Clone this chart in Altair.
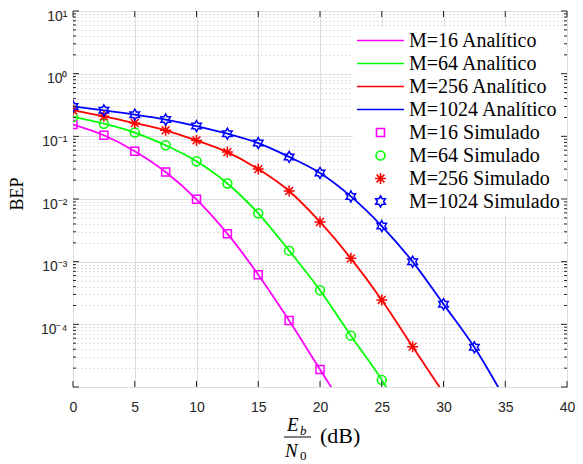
import altair as alt
import pandas as pd

# ---------------- data ----------------
labels_ana = ["M=16 Analítico", "M=64 Analítico", "M=256 Analítico", "M=1024 Analítico"]
labels_sim = ["M=16 Simulado", "M=64 Simulado", "M=256 Simulado", "M=1024 Simulado"]
series_colors = ["#ff00ff", "#00ff00", "#ff0000", "#0000ff"]

x_ana_16 = [0, 2.5, 5, 7.5, 10, 12.5, 15, 17.5, 20, 22.5]
ana_16 = [0.154, 0.104, 0.058, 0.027, 0.0099, 0.0028, 0.00062, 0.000115, 0.000019, 0.0000032]
x_ana_64 = [0, 2.5, 5, 7.5, 10, 12.5, 15, 17.5, 20, 22.5, 25, 27.5]
ana_64 = [0.204, 0.159, 0.115, 0.072, 0.040, 0.0177, 0.0059, 0.0015, 0.00035, 0.000066, 0.000013, 0.0000018]
x_ana_256 = [0, 2.5, 5, 7.5, 10, 12.5, 15, 17.5, 20, 22.5, 25, 27.5, 30]
ana_256 = [0.26, 0.209, 0.163, 0.125, 0.086, 0.056, 0.030, 0.0134, 0.0043, 0.00113, 0.000245, 0.000044, 0.000008]
x_ana_1024 = [0, 2.5, 5, 7.5, 10, 12.5, 15, 17.5, 20, 22.5, 25, 27.5, 30, 32.5, 35]
ana_1024 = [0.30, 0.26, 0.222, 0.185, 0.146, 0.110, 0.078, 0.047, 0.026, 0.011, 0.0037, 0.0010, 0.00021, 0.000043, 0.0000063]

x_sim_16 = [0, 2.5, 5, 7.5, 10, 12.5, 15, 17.5, 20]
sim_16 = [0.154, 0.104, 0.058, 0.027, 0.0099, 0.0028, 0.00062, 0.000115, 0.000019]
x_sim_64 = [0, 2.5, 5, 7.5, 10, 12.5, 15, 17.5, 20, 22.5, 25]
sim_64 = [0.204, 0.159, 0.115, 0.072, 0.040, 0.0177, 0.0059, 0.0015, 0.00035, 0.000066, 0.000013]
x_sim_256 = [0, 2.5, 5, 7.5, 10, 12.5, 15, 17.5, 20, 22.5, 25, 27.5]
sim_256 = [0.26, 0.209, 0.163, 0.125, 0.086, 0.056, 0.030, 0.0134, 0.0043, 0.00113, 0.000245, 0.000044]
x_sim_1024 = [0, 2.5, 5, 7.5, 10, 12.5, 15, 17.5, 20, 22.5, 25, 27.5, 30, 32.5]
sim_1024 = [0.30, 0.26, 0.222, 0.185, 0.146, 0.110, 0.078, 0.047, 0.026, 0.011, 0.0037, 0.0010, 0.00021, 0.000043]

x_ticks = [0, 5, 10, 15, 20, 25, 30, 35, 40]
y_decades = [1e-5, 1e-4, 1e-3, 1e-2, 1e-1, 1, 10]
minor_mults = [2, 3, 4, 5, 6, 7, 8, 9]

# ---------------- tables ----------------
ana_df = pd.concat([
    pd.DataFrame({"x": xs, "y": ys, "serie": lab, "order": range(len(xs))})
    for xs, ys, lab in [(x_ana_16, ana_16, labels_ana[0]), (x_ana_64, ana_64, labels_ana[1]),
                        (x_ana_256, ana_256, labels_ana[2]), (x_ana_1024, ana_1024, labels_ana[3])]
])
sim_df = pd.concat([
    pd.DataFrame({"x": xs, "y": ys, "serie": lab})
    for xs, ys, lab in [(x_sim_16, sim_16, labels_sim[0]), (x_sim_64, sim_64, labels_sim[1]),
                        (x_sim_256, sim_256, labels_sim[2]), (x_sim_1024, sim_1024, labels_sim[3])]
])
minor_vals = [m * d for d in y_decades[:-1] for m in minor_mults]
grid_vals = y_decades + minor_vals
xt_df = pd.DataFrame({"x": x_ticks})
ymaj_df = pd.DataFrame({"y": y_decades})
ymin_df = pd.DataFrame({"y": minor_vals})

all_labels = labels_ana + labels_sim
color_range = series_colors + series_colors
# symbol paths in units of half the symbol box (box = 47 px at size 2209)
line_sym = "M-1,0H1"
square_sym = "M-0.17,-0.17H0.17V0.17H-0.17Z"
circle_sym = "M0.19,0A0.19,0.19,0,1,1,-0.19,0A0.19,0.19,0,1,1,0.19,0Z"
aster_sym = "M-0.234,0H0.234M0,-0.234V0.234M-0.166,-0.166L0.166,0.166M-0.166,0.166L0.166,-0.166"
hexa_sym = ("M0,-0.234L0.068,-0.117L0.203,-0.117L0.135,0L0.203,0.117L0.068,0.117L0,0.234"
            "L-0.068,0.117L-0.203,0.117L-0.135,0L-0.203,-0.117L-0.068,-0.117Z")
shape_range = [line_sym] * 4 + [square_sym, circle_sym, aster_sym, hexa_sym]
SYM = 2209

W, H = 494, 376
xs = alt.Scale(domain=[0, 40], nice=False)
ys = alt.Scale(type="log", domain=[1e-5, 10], nice=False)

LOGE = "(log(datum.value)/LN10)"
MINOR = f"abs({LOGE} - round({LOGE})) > 0.01"
E = f"round({LOGE})"
label_expr = (f"{MINOR} || {E} < -4 ? '' : {E} == 1 ? '10¹' : {E} == 0 ? '10⁰' : "
              f"{E} == -1 ? '10⁻¹' : {E} == -2 ? '10⁻²' : {E} == -3 ? '10⁻³' : '10⁻⁴'")

x_axis = alt.Axis(values=x_ticks, grid=True, gridColor="#dedede", ticks=False, tickSize=0,
                  domain=False, labelFont="Liberation Sans", labelFontSize=14,
                  labelColor="#262626", labelPadding=13, labelFlush=False, title=None)
y_axis = alt.Axis(values=grid_vals, grid=True,
                  gridColor={"condition": {"test": MINOR, "value": "#c2c2c2"}, "value": "#dedede"},
                  gridDash={"condition": {"test": MINOR, "value": [1, 3]}, "value": []},
                  ticks=False, tickSize=0, domain=False, labelExpr=label_expr,
                  labelFont="Liberation Sans", labelFontSize=14, labelColor="#262626",
                  labelPadding=6, labelOffset=5, labelOverlap=False, labelBound=False,
                  labelFlush=False, title=None)

X = alt.X("x:Q", scale=xs, axis=x_axis)
Y = alt.Y("y:Q", scale=ys, axis=y_axis)
color_enc = alt.Color("serie:N", scale=alt.Scale(domain=all_labels, range=color_range), title=None)

one = pd.DataFrame({"a": [0]})
# white backing of the legend box (under the curves, over the grid)
legend_bg = alt.Chart(one).mark_rect(color="white").encode(
    x=alt.value(280), x2=alt.value(W - 1), y=alt.value(16), y2=alt.value(204))

lines = alt.Chart(ana_df).mark_line(strokeWidth=1.8, clip=True, interpolate="monotone").encode(
    x=X, y=Y, color=color_enc, order="order:Q",
)

points = alt.Chart(sim_df).mark_point(filled=False, opacity=1, strokeWidth=1.5, size=SYM, clip=True).encode(
    x=X, y=Y, color=color_enc,
    shape=alt.Shape("serie:N", scale=alt.Scale(domain=all_labels, range=shape_range), title=None),
)

tick_col = "#262626"
xt_bottom = alt.Chart(xt_df).mark_rule(color=tick_col, strokeWidth=1).encode(
    x=X, y=alt.value(H), y2=alt.value(H - 6))
xt_top = alt.Chart(xt_df).mark_rule(color=tick_col, strokeWidth=1).encode(
    x=X, y=alt.value(0), y2=alt.value(6))
yt_l = alt.Chart(ymaj_df).mark_rule(color=tick_col, strokeWidth=1).encode(
    y=Y, x=alt.value(0), x2=alt.value(6))
yt_r = alt.Chart(ymaj_df).mark_rule(color=tick_col, strokeWidth=1).encode(
    y=Y, x=alt.value(W - 6), x2=alt.value(W))
ym_l = alt.Chart(ymin_df).mark_rule(color=tick_col, strokeWidth=1).encode(
    y=Y, x=alt.value(0), x2=alt.value(3))
ym_r = alt.Chart(ymin_df).mark_rule(color=tick_col, strokeWidth=1).encode(
    y=Y, x=alt.value(W - 3), x2=alt.value(W))

def txt(t, x, y, size, style="normal", align="left", angle=0):
    return alt.Chart(one).mark_text(text=t, font="Liberation Serif", fontSize=size, fontStyle=style,
                                    align=align, baseline="alphabetic", color="#000000",
                                    angle=angle).encode(x=alt.value(x), y=alt.value(y))

t_bep = txt("BEP", -50, 183, 18, align="center", angle=270)
t_E = txt("E", 214, 420, 19, "italic")
t_b = txt("b", 227, 424, 13, "italic")
frac = alt.Chart(one).mark_rule(color="#000000", strokeWidth=1).encode(
    x=alt.value(211), x2=alt.value(238), y=alt.value(426))
t_N = txt("N", 212, 446, 19, "italic")
t_0 = txt("0", 227, 449, 13)
t_dB = txt("(dB)", 247, 432, 22)

chart = alt.layer(legend_bg, lines, points, xt_bottom, xt_top, yt_l, yt_r, ym_l, ym_r,
                  t_bep, t_E, t_b, frac, t_N, t_0, t_dB).properties(
    width=W, height=H,
    autosize=alt.AutoSizeParams(type="none"),
    padding={"left": 65, "top": 3, "right": 8, "bottom": 77},
    background="white",
).configure_view(stroke="#262626", strokeWidth=1).configure_legend(
    orient="none", legendX=277, legendY=13.5, padding=6,
    labelFont="Liberation Serif", labelFontSize=20, labelColor="#000000",
    rowPadding=3, symbolStrokeWidth=1.6, symbolSize=SYM, clipHeight=20,
    labelOffset=4, labelLimit=0,
)

chart.save("out.html", embed_options={"renderer": "svg", "actions": False})
